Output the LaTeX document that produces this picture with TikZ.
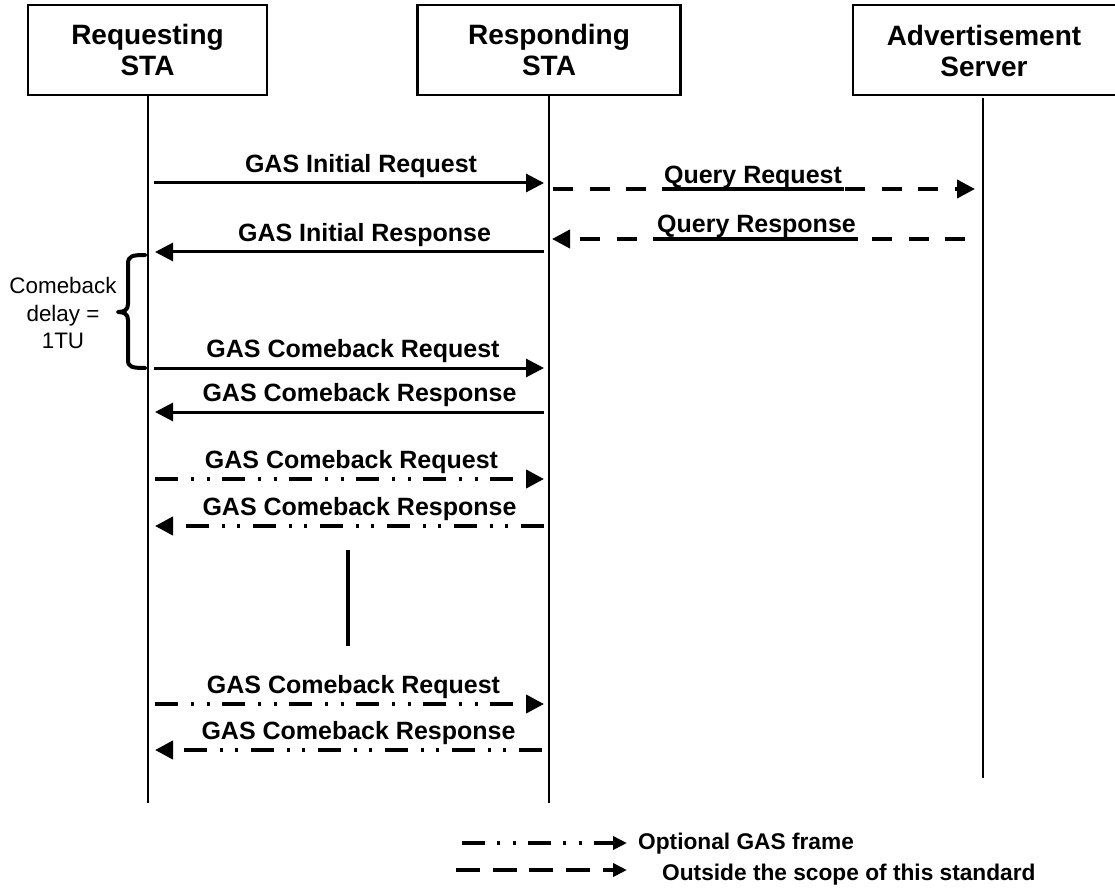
\documentclass[tikz,border=0pt]{standalone}
\usepackage{fontspec}
\setmainfont{Liberation Sans}
\usetikzlibrary{arrows.meta}
\begin{document}
\begin{tikzpicture}[x=1pt,y=-1pt,
  hdr/.style={draw, line width=2.3pt, minimum height=90pt, inner sep=0pt, align=center,
    font=\fontsize{28}{31}\selectfont\bfseries},
  hdrtext/.style={inner sep=0pt, align=center, font=\fontsize{28}{31}\selectfont\bfseries},
  boxline/.style={line width=2.3pt},
  life/.style={line width=2.3pt},
  msg/.style={line width=3pt, -{Triangle[length=18pt,width=18pt]}},
  qry/.style={line width=4pt, dash pattern=on 20pt off 16.5pt, -{Triangle[length=18pt,width=18pt]}},
  opt/.style={line width=4pt, dash pattern=on 23pt off 13pt on 3pt off 12.5pt on 3pt off 12.5pt,
    -{Triangle[length=18pt,width=18pt]}},
  lbl/.style={anchor=base, yshift=10.5pt, inner sep=0pt, font=\fontsize{25}{30}\selectfont\bfseries},
  qlbl/.style={anchor=base, inner sep=0pt, font=\fontsize{25}{30}\selectfont\bfseries},
  uline/.style={line width=3.5pt},
  legopt/.style={line width=4pt, dash pattern=on 23pt off 12pt on 3pt off 12.5pt on 3pt off 12.5pt,
    -{Triangle[length=14pt,width=13pt]}},
  legdash/.style={line width=4pt, dash pattern=on 24pt off 12.7pt, -{Triangle[length=14pt,width=13pt]}},
  legtxt/.style={anchor=base west, inner sep=0pt, font=\fontsize{22.7}{27}\selectfont\bfseries},
  note/.style={align=center, inner sep=0pt, font=\fontsize{22.4}{27.5}\selectfont},
  bracestyle/.style={line width=4pt, line cap=round, line join=round},
  contline/.style={line width=4pt}
]
\useasboundingbox (0,0) rectangle (1115,890);
\clip (0,0) rectangle (1115,890);

% headers
\node[hdr, minimum width=239pt] (req) at (147.5,50) {Requesting\\STA};
\node[hdr, minimum width=263pt] (resp) at (549,50) {Responding\\STA};
\node[hdrtext] (srv) at (984,51) {Advertisement\\Server};
\draw[boxline] (853,5) rectangle (1140,95);

% lifeline ends
\coordinate (reqEnd) at (148,803);
\coordinate (respEnd) at (549,803);
\coordinate (srvTop) at (983,98);
\coordinate (srvEnd) at (983,778);
\draw[life] (req.south -| reqEnd) -- (reqEnd);
\draw[life] (resp.south -| respEnd) -- (respEnd);
\draw[life] (srvTop) -- (srvEnd);

% message endpoints
\coordinate (L1) at (154,183); \coordinate (R1) at (544,183);
\coordinate (Q1a) at (553,189); \coordinate (Q1b) at (975,189);
\coordinate (Q2a) at (965,239); \coordinate (Q2b) at (552,239);
\coordinate (L2) at (155,252); \coordinate (R2) at (544,252);
\coordinate (L3) at (154,368); \coordinate (R3) at (544,368);
\coordinate (L4) at (155,412); \coordinate (R4) at (544,412);
\coordinate (L5) at (155,479); \coordinate (R5) at (544,479);
\coordinate (L6) at (155,526); \coordinate (R6) at (544,526);
\coordinate (L7) at (155,704); \coordinate (R7) at (544,704);
\coordinate (L8) at (155,750); \coordinate (R8) at (542,750);

\draw[msg] (L1) -- node[lbl, xshift=12pt] (t1) {GAS Initial Request} (R1);
\draw[qry] (Q1a) -- node[qlbl, xshift=-11pt, yshift=5.5pt] (tq1) {Query Request} (Q1b);
\path (tq1.base west) ++(0,5.5) coordinate (u1a) (tq1.base east) ++(0,5.5) coordinate (u1b);
\draw[uline] (u1a) -- (u1b);
\draw[qry] (Q2a) -- node[qlbl, xshift=-2pt, yshift=6pt] (tq2) {Query Response} (Q2b);
\path (tq2.base west) ++(0,6) coordinate (u2a) (tq2.base east) ++(0,6) coordinate (u2b);
\draw[uline] (u2a) -- (u2b);
\draw[msg] (R2) -- node[lbl, xshift=15pt] (t2) {GAS Initial Response} (L2);
\draw[msg] (L3) -- node[lbl, xshift=4pt] (t3) {GAS Comeback Request} (R3);
\draw[msg] (R4) -- node[lbl, xshift=10pt] (t4) {GAS Comeback Response} (L4);
\draw[opt] (L5) -- node[lbl, xshift=2pt] (t5) {GAS Comeback Request} (R5);
\draw[opt] (R6) -- node[lbl, xshift=10pt] (t6) {GAS Comeback Response} (L6);
\draw[opt] (L7) -- node[lbl, xshift=4pt] (t7) {GAS Comeback Request} (R7);
\draw[opt] (R8) -- node[lbl, xshift=10pt] (t8) {GAS Comeback Response} (L8);

% continuation marker
\coordinate (cA) at (348,550); \coordinate (cB) at (348,646);
\draw[contline] (cA) -- (cB);

% comeback delay brace
\draw[bracestyle] (145,255) .. controls (132,255) and (128,256) .. (128,264) -- (128,304)
  .. controls (128,310) and (124,312) .. (118,312)
  .. controls (124,312) and (128,314) .. (128,320) -- (128,360)
  .. controls (128,367) and (132,368) .. (145,368);
\node[note] (delay) at (63,313) {Comeback\\delay =\\1TU};

% legend
\coordinate (lg1a) at (462,843); \coordinate (lg1b) at (627,843);
\coordinate (lg2a) at (456,870); \coordinate (lg2b) at (627,870);
\draw[legopt] (lg1a) -- (lg1b);
\draw[legdash] (lg2a) -- (lg2b);
\node[legtxt] (lt1) at (638,849) {Optional GAS frame};
\node[legtxt] (lt2) at (662,880) {Outside the scope of this standard};
\end{tikzpicture}
\end{document}
